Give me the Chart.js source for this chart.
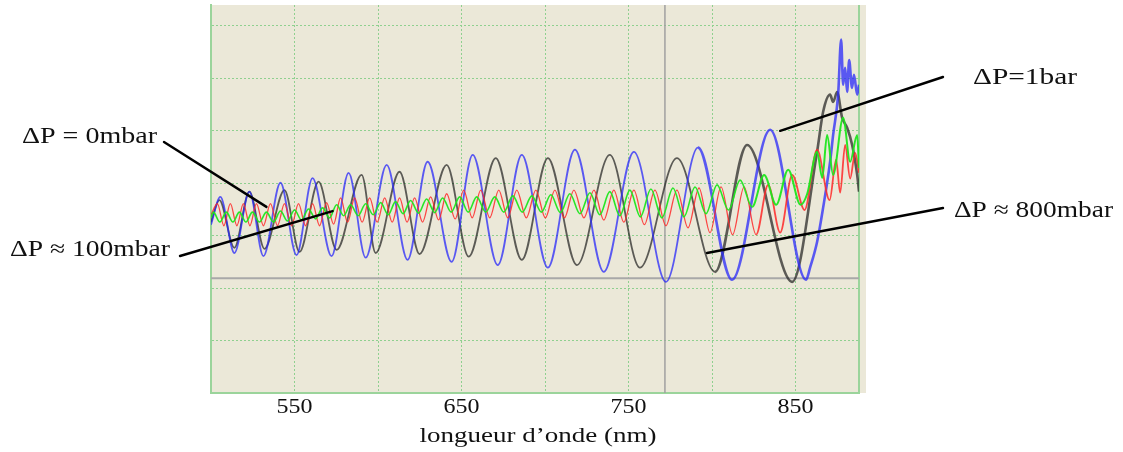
<!DOCTYPE html>
<html><head><meta charset="utf-8">
<script src="https://cdn.jsdelivr.net/npm/chart.js@4.4.1/dist/chart.umd.min.js"></script>
<style>html,body{margin:0;padding:0;background:#fff;overflow:hidden}</style>
</head><body>
<canvas id="c" width="1123" height="452"></canvas>
<script>
// ---- axis ticks ----
const xTickValues = [550, 600, 650, 700, 750, 800, 850];
const xTickLabels = ['550', '', '650', '', '750', '', '850'];
const yTickValues = [1, 2, 3, 4, 5, 6, 7];
const xTitle = 'longueur d’onde (nm)';

// ---- series: wavelength (nm) and signal (arbitrary units) ----
const blueNm  = [500.0,505.6,514.0,523.0,531.4,541.6,551.2,560.8,572.2,582.4,592.6,605.2,617.7,629.7,644.1,656.7,671.7,686.1,701.7,717.9,735.2,753.2,772.4,791.6,812.0,834.8,856.3,858.7,862.9,866.5,870.7,872.5,875.5,877.3,878.5,879.7,880.9,882.1,883.8,885.0,886.9,888.0];
const blueVal = [3.21,3.74,2.67,3.84,2.61,4.01,2.63,4.10,2.61,4.20,2.58,4.35,2.54,4.41,2.50,4.54,2.44,4.54,2.39,4.64,2.31,4.60,2.12,4.68,2.16,5.02,2.16,2.39,2.88,3.53,4.41,4.92,5.69,6.74,5.88,6.20,5.74,6.35,5.82,6.07,5.69,5.88];

const blackNm  = [500.0,505.0,514.0,523.0,532.0,544.0,553.0,564.4,575.2,590.2,598.6,612.9,624.9,641.1,654.3,670.5,686.1,701.7,719.1,738.8,756.8,779.0,801.8,821.0,848.0,862.9,866.5,870.7,872.5,874.9,877.9,880.9,883.9,886.9,888.0];
const blackVal = [3.26,3.68,2.77,3.84,2.75,3.87,2.69,4.03,2.73,4.16,2.67,4.22,2.65,4.35,2.60,4.48,2.54,4.48,2.44,4.54,2.39,4.48,2.31,4.73,2.12,4.60,5.36,5.69,5.55,5.74,5.25,5.06,4.73,4.16,3.84];

const redNm  = [500.0,503.8,507.7,511.6,515.5,519.4,523.3,527.2,531.4,535.6,539.8,544.0,548.2,552.4,556.6,560.8,565.0,569.2,573.4,577.6,581.8,586.0,590.5,595.0,599.5,604.0,608.5,612.9,617.4,621.9,626.7,631.5,636.3,641.1,646.2,651.3,656.4,661.5,666.9,672.3,677.7,683.1,688.8,694.5,700.2,705.9,711.6,717.3,723.3,729.3,735.2,741.2,747.2,753.2,759.5,765.8,772.4,779.0,785.6,792.2,798.8,805.4,812.3,819.2,826.4,833.6,840.8,848.0,855.4,862.9,870.4,874.3,876.7,879.7,882.7,885.7,888.0];
const redVal = [3.40,3.61,3.19,3.61,3.19,3.61,3.19,3.61,3.19,3.61,3.19,3.61,3.19,3.61,3.19,3.61,3.19,3.63,3.22,3.72,3.26,3.72,3.26,3.72,3.26,3.72,3.26,3.72,3.26,3.72,3.26,3.74,3.30,3.80,3.32,3.87,3.34,3.87,3.34,3.87,3.34,3.87,3.34,3.87,3.34,3.87,3.34,3.87,3.34,3.87,3.30,3.87,3.26,3.87,3.21,3.87,3.19,3.87,3.15,3.91,3.06,3.93,3.02,3.93,3.02,3.97,3.06,4.16,3.49,4.64,3.68,4.45,3.82,4.73,4.09,4.58,4.20];

const greenNm  = [500.0,501.4,505.3,509.2,513.1,517.0,520.9,524.8,529.0,533.2,537.4,541.6,545.8,550.0,554.2,558.4,562.6,566.8,571.0,575.2,579.4,583.6,588.1,592.6,597.1,601.6,606.1,610.5,615.0,619.5,624.3,629.1,633.9,638.7,643.8,648.9,654.0,659.1,664.5,669.9,675.3,680.7,686.4,692.1,697.8,703.5,709.2,714.9,720.9,726.9,732.8,738.8,744.8,750.8,757.1,763.4,770.0,776.6,783.2,789.8,796.4,803.0,809.9,816.8,824.0,831.2,838.4,845.6,853.0,857.0,862.9,866.0,868.9,872.5,878.5,882.7,886.9,888.0];
const greenVal = [3.35,3.45,3.26,3.45,3.26,3.45,3.26,3.45,3.26,3.45,3.26,3.47,3.28,3.49,3.30,3.51,3.32,3.53,3.34,3.59,3.38,3.59,3.38,3.61,3.40,3.63,3.40,3.65,3.42,3.67,3.43,3.70,3.44,3.72,3.45,3.74,3.45,3.74,3.45,3.74,3.45,3.76,3.45,3.76,3.45,3.78,3.44,3.80,3.42,3.82,3.40,3.84,3.38,3.87,3.36,3.89,3.34,3.91,3.36,3.93,3.42,3.97,3.49,4.06,3.55,4.16,3.59,4.26,3.59,3.80,4.60,4.10,4.92,4.16,5.25,4.41,4.92,4.29];

// reference lines of the original software (grey)
const refLineHorizVal = 2.19;
const refLineVertNm = 771.8;

// annotations: label text, text box in canvas px, arrow tip in data units
const annotations = [
  { text: 'ΔP = 0mbar',    tx: 22,  ty: 143, tw: 135, from: [164, 142], toNm: 533.2, toVal: 3.55 },
  { text: 'ΔP ≈ 100mbar',  tx: 10,  ty: 256, tw: 160, from: [180, 256], toNm: 572.8, toVal: 3.47 },
  { text: 'ΔP=1bar',       tx: 973, ty: 84,  tw: 104, from: [943, 77],  toNm: 840.8, toVal: 5.00 },
  { text: 'ΔP ≈ 800mbar',  tx: 954, ty: 217, tw: 159, from: [943, 208], toNm: 797.0, toVal: 2.67 }
];

const pts = (xs, ys) => xs.map((x, i) => ({ x: x, y: ys[i] }));

function stretchText(ctx, text, cx, baseline, width, size, align) {
  ctx.save();
  ctx.font = size + 'px "Liberation Serif"';
  ctx.fillStyle = '#111';
  ctx.textBaseline = 'alphabetic';
  ctx.textAlign = 'left';
  const w = ctx.measureText(text).width;
  const left = align === 'center' ? cx - width / 2 : cx;
  ctx.translate(left, baseline);
  ctx.scale(width / w, 1);
  ctx.fillText(text, 0, 0);
  ctx.restore();
}

const bgPlugin = {
  id: 'bg',
  beforeDraw(chart) {
    const { ctx, chartArea: a } = chart;
    ctx.save();
    ctx.fillStyle = '#ffffff';
    ctx.fillRect(0, 0, chart.width, chart.height);
    ctx.fillStyle = '#ebe8d8';
    ctx.fillRect(a.left, a.top, a.right - a.left + 7, a.bottom - a.top);
    ctx.restore();
  },
  beforeDatasetsDraw(chart) {
    const { ctx, chartArea: a } = chart;
    ctx.save();
    ctx.strokeStyle = '#9bd49b';
    ctx.lineWidth = 2;
    ctx.beginPath();
    ctx.moveTo(a.right, a.top);
    ctx.lineTo(a.right, a.bottom);
    ctx.stroke();
    ctx.restore();
  },
  afterDraw(chart) {
    const { ctx, chartArea: a } = chart;
    const xs = chart.scales.x, ys = chart.scales.y;
    xTickValues.forEach((v, i) => {
      if (xTickLabels[i]) stretchText(ctx, xTickLabels[i], xs.getPixelForValue(v), a.bottom + 20, 36, 22, 'center');
    });
    stretchText(ctx, xTitle, (a.left + a.right) / 2 + 3, a.bottom + 49, 237, 22, 'center');
    ctx.save();
    annotations.forEach(an => {
      ctx.strokeStyle = '#000';
      ctx.lineWidth = 2.4;
      ctx.lineCap = 'round';
      ctx.beginPath();
      ctx.moveTo(an.from[0], an.from[1]);
      ctx.lineTo(xs.getPixelForValue(an.toNm), ys.getPixelForValue(an.toVal));
      ctx.stroke();
      stretchText(ctx, an.text, an.tx, an.ty, an.tw, 23, 'left');
    });
    ctx.restore();
  }
};

const noisyWidth = (base, wide, fromNm) => ctx => (ctx.p0 && ctx.p0.parsed.x >= fromNm ? wide : base);

const lineDs = (label, data, color, width, wide, fromNm) => ({
  label, data, borderColor: color, borderWidth: width, pointRadius: 0,
  cubicInterpolationMode: 'monotone', fill: false,
  segment: { borderWidth: noisyWidth(width, wide, fromNm) }
});

new Chart(document.getElementById('c'), {
  type: 'line',
  data: {
    datasets: [
      lineDs('ΔP ≈ 100mbar', pts(greenNm, greenVal), 'rgba(30,230,30,0.95)', 1.6, 2.0, 820),
      lineDs('ΔP = 0mbar', pts(redNm, redVal), 'rgba(255,40,40,0.85)', 1.3, 1.8, 820),
      lineDs('ΔP=1bar', pts(blueNm, blueVal), 'rgba(40,40,250,0.75)', 1.8, 2.6, 790),
      lineDs('ΔP ≈ 800mbar', pts(blackNm, blackVal), 'rgba(30,30,30,0.7)', 1.8, 2.6, 780),
      { label: 'ref-h', data: [{x: 500, y: refLineHorizVal}, {x: 888, y: refLineHorizVal}], borderColor: '#a8a8a8', borderWidth: 2, pointRadius: 0 },
      { label: 'ref-v', data: [{x: refLineVertNm, y: 0}, {x: refLineVertNm, y: 7.4}], borderColor: '#a0a0a0', borderWidth: 1.5, pointRadius: 0 }
    ]
  },
  options: {
    responsive: false,
    animation: false,
    devicePixelRatio: 1,
    layout: { padding: { left: 211, right: 264, top: 5, bottom: 59 } },
    plugins: { legend: { display: false }, tooltip: { enabled: false } },
    scales: {
      x: {
        type: 'linear', min: 500, max: 888,
        afterBuildTicks: s => { s.ticks = xTickValues.map(v => ({ value: v })); },
        ticks: { display: false },
        grid: { color: '#8fd08f', lineWidth: 1, drawTicks: false },
        border: { display: true, color: '#9bd49b', width: 2, dash: [2, 2] }
      },
      y: {
        type: 'linear', min: 0, max: 7.4,
        afterBuildTicks: s => { s.ticks = yTickValues.map(v => ({ value: v })); },
        ticks: { display: false },
        grid: { color: '#8fd08f', lineWidth: 1, drawTicks: false },
        border: { display: true, color: '#9bd49b', width: 2, dash: [2, 2] }
      }
    }
  },
  plugins: [bgPlugin]
});
</script>
</body></html>
